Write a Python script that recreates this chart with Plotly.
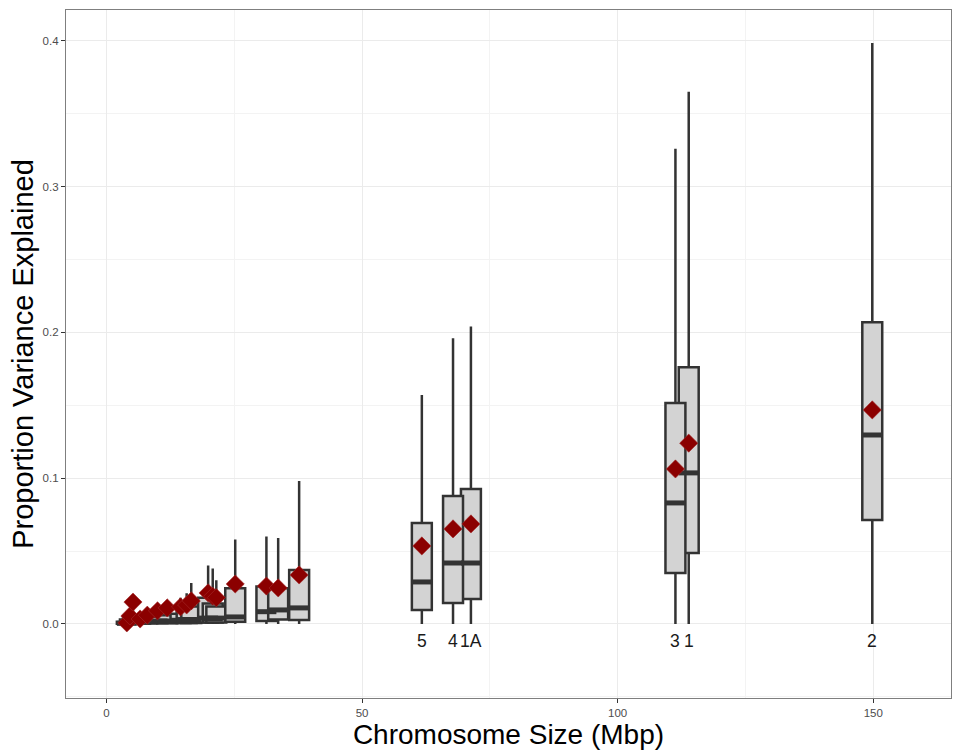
import plotly.graph_objects as go

# ---------------- data ----------------
# chromosome label ('' = not labelled in the chart), drawn in this order
chrom = ['', '', '', '', '', '', '', '', '', '', '', '', '', '', '', '', '',
         '5', '1A', '4', '1', '3', '2']
size_mbp = [4.0, 4.6, 5.2, 6.6, 8.0, 10.0, 11.9, 14.5, 15.7, 16.6, 19.9, 20.8, 21.5,
            25.2, 31.3, 33.6, 37.7,
            61.7, 71.3, 67.8, 113.9, 111.3, 149.8]
q1 = [0.0001, 0.0002, 0.0003, 0.0003, 0.0004, 0.0005, 0.0005, 0.0006, 0.0006, 0.0007,
      0.0010, 0.0010, 0.0010, 0.0015, 0.0020, 0.0030, 0.0027,
      0.0096, 0.0171, 0.0144, 0.0487, 0.0350, 0.0713]
median = [0.0004, 0.0010, 0.0015, 0.0012, 0.0015, 0.0020, 0.0020, 0.0025, 0.0030, 0.0030,
          0.0040, 0.0035, 0.0040, 0.0048, 0.0084, 0.0096, 0.0110,
          0.0288, 0.0418, 0.0418, 0.1036, 0.0830, 0.1296]
q3 = [0.0015, 0.0030, 0.0050, 0.0040, 0.0040, 0.0050, 0.0060, 0.0070, 0.0080, 0.0120,
      0.0180, 0.0140, 0.0120, 0.0245, 0.0256, 0.0245, 0.0370,
      0.0693, 0.0926, 0.0878, 0.1760, 0.1516, 0.2070]
lower = [0.0, 0.0, 0.0, 0.0, 0.0, 0.0, 0.0, 0.0, 0.0, 0.0,
         0.0, 0.0, 0.0, 0.0, 0.0, 0.0, 0.0,
         0.0, 0.0, 0.0, 0.0, 0.0, 0.0]
upper = [0.004, 0.009, 0.013, 0.008, 0.010, 0.013, 0.015, 0.018, 0.021, 0.028,
         0.040, 0.038, 0.030, 0.058, 0.060, 0.059, 0.098,
         0.157, 0.204, 0.196, 0.365, 0.326, 0.3985]
mean_pve = [0.0007, 0.0055, 0.0150, 0.0034, 0.0060, 0.0090, 0.0110, 0.0117, 0.0130, 0.0158,
            0.0213, 0.0190, 0.0180, 0.0274, 0.0260, 0.0247, 0.0336,
            0.0535, 0.0686, 0.0652, 0.1240, 0.1063, 0.1468]

x_ticks = [0, 50, 100, 150]
y_ticks = [0.0, 0.1, 0.2, 0.3, 0.4]
label_y = -0.0115
box_width = 3.9

FONT = "Liberation Sans, Arial, sans-serif"
BOX_LINE = "#333333"

fig = go.Figure()

for i in range(len(size_mbp)):
    s = size_mbp[i]
    fig.add_trace(go.Box(
        x=[s], q1=[q1[i]], median=[median[i]], q3=[q3[i]],
        lowerfence=[lower[i]], upperfence=[upper[i]],
        width=box_width, whiskerwidth=0, boxpoints=False,
        fillcolor="#D3D3D3", line=dict(color=BOX_LINE, width=2.5),
        showlegend=False, hoverinfo="skip",
    ))
    # thicker median bar (ggplot style)
    fig.add_trace(go.Scatter(
        x=[s - box_width / 2, s + box_width / 2], y=[median[i], median[i]],
        mode="lines", line=dict(color=BOX_LINE, width=5),
        showlegend=False, hoverinfo="skip",
    ))

fig.add_trace(go.Scatter(
    x=size_mbp, y=mean_pve, mode="markers",
    marker=dict(symbol="diamond", size=14, color="#8B0000",
                line=dict(color="#A52A2A", width=0.6)),
    showlegend=False, name="mean",
))

for c, s in zip(chrom, size_mbp):
    if c:
        fig.add_annotation(x=s, y=label_y, xref="x", yref="y", text=c,
                           showarrow=False, xanchor="center", yanchor="middle",
                           font=dict(family=FONT, size=17.5, color="#1A1A1A"))

axis_common = dict(
    showgrid=True, gridcolor="#EBEBEB", gridwidth=1.2,
    showline=True, mirror=True, linecolor="#7F7F7F", linewidth=1.2,
    ticks="outside", ticklen=4, tickcolor="#333333", tickwidth=1,
    tickfont=dict(family=FONT, size=11.5, color="#4D4D4D"),
    zeroline=False,
)

fig.update_layout(
    width=954, height=753,
    margin=dict(l=66, r=3, t=10, b=55),
    paper_bgcolor="white", plot_bgcolor="white",
    xaxis=dict(
        range=[-7.9, 165.2], tickvals=x_ticks,
        minor=dict(tickvals=[25, 75, 125], showgrid=True, gridcolor="#F3F3F3",
                   gridwidth=0.8, ticks=""),
        title=dict(text="Chromosome Size (Mbp)", standoff=4,
                   font=dict(family=FONT, size=28, color="black")),
        **axis_common,
    ),
    yaxis=dict(
        range=[-0.0508, 0.4211], tickvals=y_ticks, tickformat=".1f",
        minor=dict(tickvals=[-0.05, 0.05, 0.15, 0.25, 0.35], showgrid=True,
                   gridcolor="#F3F3F3", gridwidth=0.8, ticks=""),
        title=dict(text="Proportion Variance Explained", standoff=0,
                   font=dict(family=FONT, size=29, color="black")),
        **axis_common,
    ),
    boxmode="overlay",
    font=dict(family=FONT),
)

fig.write_html("out.html")
